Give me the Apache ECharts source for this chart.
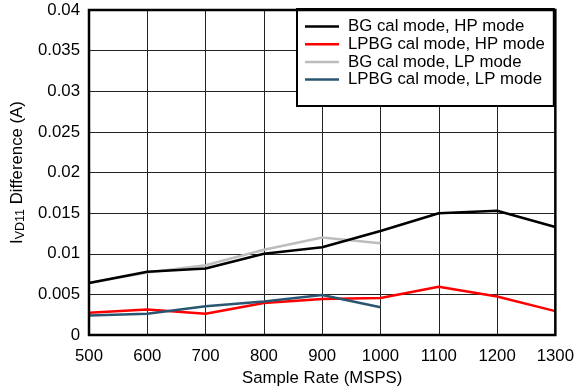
<!DOCTYPE html>
<html><head><meta charset="utf-8">
<script src="https://cdn.jsdelivr.net/npm/echarts@6/dist/echarts.min.js"></script>
<style>html,body{margin:0;padding:0;background:#fff}#c{width:577px;height:392px}</style>
</head><body><div id="c"></div>
<script>
const xValues = [500, 600, 700, 800, 900, 1000, 1100, 1200, 1300];
const bgHP   = [0.0064, 0.0078, 0.0082, 0.0100, 0.0108, 0.0128, 0.0150, 0.0153, 0.0133];
const lpbgHP = [0.00275, 0.00315, 0.00263, 0.00396, 0.00444, 0.00457, 0.00594, 0.00476, 0.00295];
const bgLP   = [0.0064, 0.0077, 0.0086, 0.0105, 0.0120, 0.0113];
const lpbgLP = [0.00242, 0.00263, 0.00355, 0.00412, 0.00493, 0.00343];
const seriesNames = ['BG cal mode, HP mode', 'LPBG cal mode, HP mode', 'BG cal mode, LP mode', 'LPBG cal mode, LP mode'];
const yTickLabels = ['0', '0.005', '0.01', '0.015', '0.02', '0.025', '0.03', '0.035', '0.04'];
const xTickLabels = ['500', '600', '700', '800', '900', '1000', '1100', '1200', '1300'];

const FONT = 'Liberation Sans, Arial, sans-serif';
const FS = 16.8;
const colors = ['#000000', '#ff0000', '#bdbdbd', '#2b5672'];
const seriesData = [bgHP, lpbgHP, bgLP, lpbgLP];

const chart = echarts.init(document.getElementById('c'));
chart.setOption({
  animation: false,
  backgroundColor: '#fff',
  textStyle: { fontFamily: FONT },
  grid: { left: 89, top: 10, right: 20, bottom: 52, show: true, borderColor: '#000', borderWidth: 2.5, z: 10 },
  legend: {
    orient: 'vertical', left: 297, top: 9,
    padding: [9, 9, 18, 8], itemGap: 0.7,
    backgroundColor: '#fff', borderColor: '#000', borderWidth: 2,
    icon: 'rect', itemWidth: 34, itemHeight: 2.5,
    textStyle: { fontFamily: FONT, fontSize: FS, color: '#000', padding: [0, 0, 0, 4] },
    data: seriesNames
  },
  xAxis: {
    type: 'value', min: 500, max: 1300, interval: 100,
    name: 'Sample Rate (MSPS)', nameLocation: 'middle', nameGap: 29,
    nameTextStyle: { fontFamily: FONT, fontSize: FS, color: '#000' },
    axisLine: { show: false }, axisTick: { show: false },
    axisLabel: { fontFamily: FONT, fontSize: FS, color: '#000', margin: 13,
      formatter: v => xTickLabels[Math.round((v - 500) / 100)] },
    splitLine: { show: true, lineStyle: { color: '#222', width: 1 } }
  },
  yAxis: {
    type: 'value', min: 0, max: 0.04, interval: 0.005,
    name: '{a|I}{b|VD11}{a| Difference (A)}', nameLocation: 'middle', nameGap: 60,
    nameTextStyle: { fontFamily: FONT, fontSize: FS, color: '#000',
      rich: {
        a: { fontFamily: FONT, fontSize: FS, color: '#000', lineHeight: 20 },
        b: { fontFamily: FONT, fontSize: 12.5, color: '#000', verticalAlign: 'bottom', padding: [6, 0, 0, 0] }
      } },
    axisLine: { show: false }, axisTick: { show: false },
    axisLabel: { fontFamily: FONT, fontSize: FS, color: '#000', margin: 9,
      formatter: v => yTickLabels[Math.round(v / 0.005)] },
    splitLine: { show: true, lineStyle: { color: '#222', width: 1 } }
  },
  series: seriesNames.map((n, i) => ({
    name: n, type: 'line', symbol: 'none', color: colors[i],
    lineStyle: { width: 2.5, color: colors[i] },
    data: seriesData[i].map((v, j) => [xValues[j], v]),
    z: [5, 4, 3, 6][i]
  }))
});
</script></body></html>
